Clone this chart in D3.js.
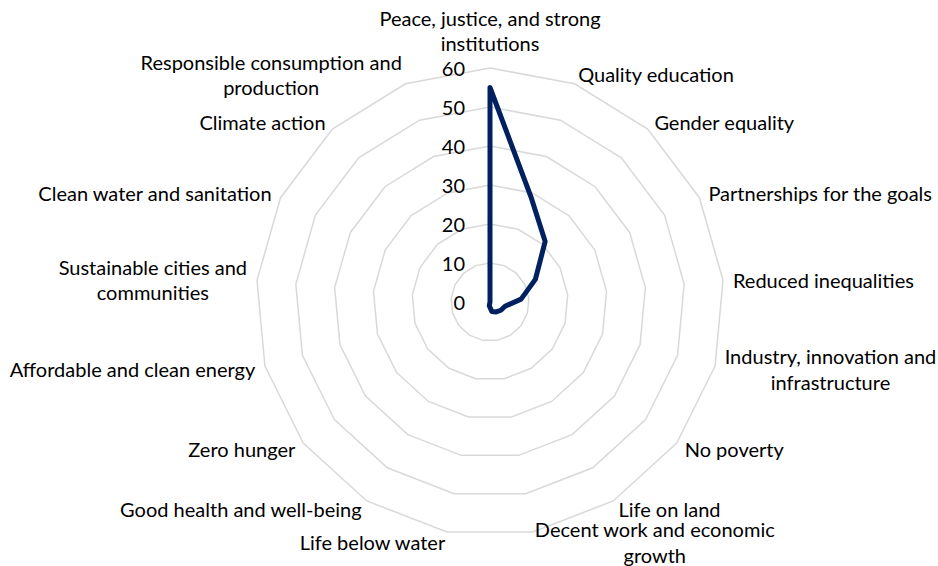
<!DOCTYPE html>
<html>
<head>
<meta charset="utf-8">
<script src="https://cdn.jsdelivr.net/npm/d3@7"></script>
<style>
  body { margin: 0; background: #fff; }
  text { font-family: Lato, "Open Sans", sans-serif; fill: #000; }
</style>
</head>
<body>
<div id="radar"></div>
<script>
// chart data (clockwise from the top)
var categories = [
  "Peace, justice, and strong\ninstitutions",
  "Quality education",
  "Gender equality",
  "Partnerships for the goals",
  "Reduced inequalities",
  "Industry, innovation and\ninfrastructure",
  "No poverty",
  "Life on land",
  "Decent work and economic\ngrowth",
  "Life below water",
  "Good health and well-being",
  "Zero hunger",
  "Affordable and clean energy",
  "Sustainable cities and\ncommunities",
  "Clean water and sanitation",
  "Climate action",
  "Responsible consumption and\nproduction"
];
var values = [55, 29, 21, 13, 8, 4, 3.5, 3, 2.5, 1, 0, 0, 0, 0, 0, 0, 0];
var tickValues = [0, 10, 20, 30, 40, 50, 60];

//set size and center
var svgWidth = 938;
var svgHeight = 566;
var center = { x: 490, y: 302 };
var radius = 234;
var fontSize = 20;
var lineHeight = 25.5;
var labelPad = 10;

var svg = d3.select("#radar")
  .append("svg")
  .attr("width", svgWidth)
  .attr("height", svgHeight);

var chartGroup = svg.append("g")
  .attr("transform", `translate(${center.x}, ${center.y})`);

// scales
var rScale = d3.scaleLinear().domain([0, 60]).range([0, radius]);
var angleScale = d3.scaleLinear().domain([0, categories.length]).range([0, 2 * Math.PI]);

var radarLine = d3.lineRadial()
  .angle((d, i) => angleScale(i))
  .radius(d => rScale(d))
  .curve(d3.curveLinearClosed);

// grid rings
chartGroup.selectAll(".ring")
  .data(tickValues.filter(t => t > 0))
  .enter()
  .append("path")
  .attr("class", "ring")
  .attr("d", t => radarLine(categories.map(() => t)))
  .attr("fill", "none")
  .attr("stroke", "#d9d9d9")
  .attr("stroke-width", 1.5);

// tick labels
chartGroup.selectAll(".tick-label")
  .data(tickValues)
  .enter()
  .append("text")
  .attr("class", "tick-label")
  .attr("x", -25)
  .attr("y", d => -rScale(d))
  .attr("text-anchor", "end")
  .attr("dominant-baseline", "central")
  .attr("font-size", fontSize + "px")
  .text(d => d);

// series line
chartGroup.append("path")
  .datum(values)
  .attr("d", radarLine)
  .attr("fill", "none")
  .attr("stroke", "#002060")
  .attr("stroke-width", 5)
  .attr("stroke-linejoin", "round");

// category labels
categories.forEach(function(label, i) {
  var a = angleScale(i);
  var s = Math.sin(a), c = Math.cos(a);
  var ax = (radius + labelPad) * s;
  var ay = -(radius + labelPad) * c;
  var lines = label.split("\n");

  var text = chartGroup.append("text")
    .attr("class", "cat-label")
    .attr("font-size", fontSize + "px")
    .attr("text-anchor", "middle")
    .attr("dominant-baseline", "central");

  var spans = lines.map(l => text.append("tspan").text(l));
  var w = d3.max(spans, sp => sp.node().getComputedTextLength());
  var h = lines.length * lineHeight;

  var left;
  if (s > 0.05) left = ax;
  else if (s < -0.05) left = ax - w;
  else left = ax - w / 2;

  // top label sits above the outer ring, the rest are centred on their anchor
  var midY = (Math.abs(s) <= 0.05 && c > 0) ? ay - h / 2 - 2 : ay;
  var top = midY - h / 2;

  spans.forEach(function(sp, k) {
    sp.attr("x", left + w / 2)
      .attr("y", top + lineHeight * k + lineHeight / 2);
  });
});
</script>
</body>
</html>
